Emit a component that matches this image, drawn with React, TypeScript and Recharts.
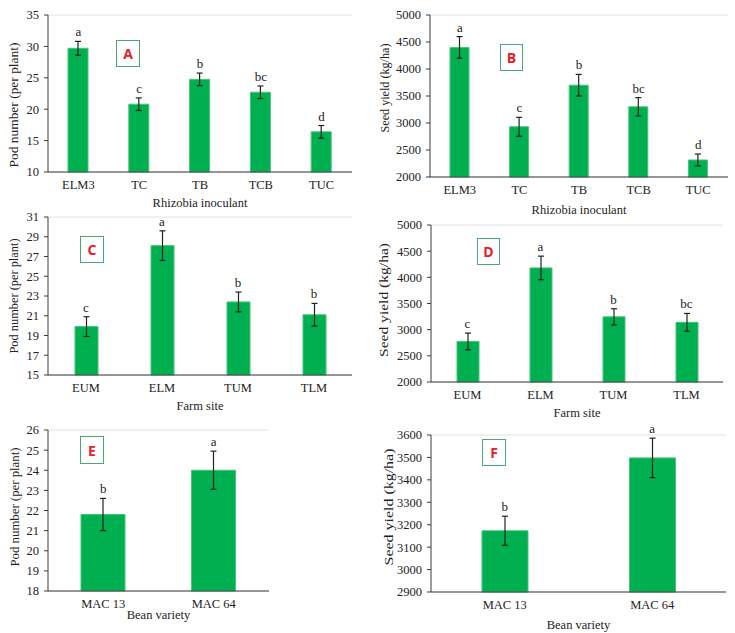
import React from 'react';
import {
  ComposedChart,
  Bar,
  Line,
  XAxis,
  YAxis,
  CartesianGrid,
  ErrorBar,
  Label,
} from 'recharts';

const SERIF = '"Liberation Serif", "Times New Roman", serif';
const GREEN = '#00b050';
const INK = '#222';
const AXIS = '#3a3a3a';

// A - pod number by rhizobia inoculant
const inoculants = ['ELM3', 'TC', 'TB', 'TCB', 'TUC'];
const podByInoculant = [29.7, 20.8, 24.75, 22.7, 16.4];
const podByInoculantErr = [1.1, 1.0, 1.0, 1.0, 1.0];
const podByInoculantLetters = ['a', 'c', 'b', 'bc', 'd'];
const podTicksA = [10, 15, 20, 25, 30, 35];

// B - seed yield by rhizobia inoculant
const yieldByInoculant = [4400, 2930, 3700, 3300, 2315];
const yieldByInoculantErr = [200, 175, 200, 170, 110];
const yieldByInoculantLetters = ['a', 'c', 'b', 'bc', 'd'];
const yieldTicksB = [2000, 2500, 3000, 3500, 4000, 4500, 5000];

// C - pod number by farm site
const farmSites = ['EUM', 'ELM', 'TUM', 'TLM'];
const podBySite = [19.9, 28.1, 22.4, 21.1];
const podBySiteErr = [1.0, 1.5, 1.0, 1.15];
const podBySiteLetters = ['c', 'a', 'b', 'b'];
const podTicksC = [15, 17, 19, 21, 23, 25, 27, 29, 31];

// D - seed yield by farm site
const yieldBySite = [2775, 4180, 3245, 3140];
const yieldBySiteErr = [160, 225, 155, 170];
const yieldBySiteLetters = ['c', 'a', 'b', 'bc'];
const yieldTicksD = [2000, 2500, 3000, 3500, 4000, 4500, 5000];

// E - pod number by bean variety
const varieties = ['MAC 13', 'MAC 64'];
const podByVariety = [21.8, 24.0];
const podByVarietyErr = [0.8, 0.95];
const podByVarietyLetters = ['b', 'a'];
const podTicksE = [18, 19, 20, 21, 22, 23, 24, 25, 26];

// F - seed yield by bean variety
const yieldByVariety = [3173, 3498];
const yieldByVarietyErr = [65, 88];
const yieldByVarietyLetters = ['b', 'a'];
const yieldTicksF = [2900, 3000, 3100, 3200, 3300, 3400, 3500, 3600];

type PanelProps = {
  tag: string;
  left: number;
  top: number;
  width: number;
  height: number;
  margin: { top: number; right: number; bottom: number; left: number };
  yWidth: number;
  xHeight: number;
  categories: string[];
  values: number[];
  errors: number[];
  letters: string[];
  ticks: number[];
  minorStep: number;
  barSize: number;
  xTitle: string;
  yTitle: string;
  yTitleX: number;
  yTitleY: number;
  yTitleLen: number;
  tagBox: { x: number; y: number; w: number; h: number };
};

// significance letter drawn just above the error bar cap
const LetterDot = (props: any) => {
  const { cx, cy, payload, index } = props;
  if (cx == null || cy == null) return <g key={`l-${index}`} />;
  return (
    <text
      key={`l-${index}`}
      x={cx}
      y={cy - 5}
      textAnchor="middle"
      fill={INK}
      stroke="none"
      style={{ fontSize: 13, fontFamily: SERIF }}
    >
      {payload.letter}
    </text>
  );
};

function Panel(p: PanelProps) {
  const data = p.categories.map((name, i) => ({
    name,
    value: p.values[i],
    err: p.errors[i],
    top: p.values[i] + p.errors[i],
    letter: p.letters[i],
  }));
  const lo = p.ticks[0];
  const hi = p.ticks[p.ticks.length - 1];
  // minor gridline positions (Excel style, 5 per major step)
  const minor: number[] = [];
  const n = Math.round((hi - lo) / p.minorStep);
  for (let i = 0; i <= n; i++) minor.push(+(lo + i * p.minorStep).toFixed(4));

  return (
    <>
      <div style={{ position: 'absolute', left: p.left, top: p.top }}>
        <ComposedChart width={p.width} height={p.height} data={data} margin={p.margin}>
          <YAxis yAxisId="grid" hide domain={[lo, hi]} ticks={minor} interval={0} />
          <CartesianGrid vertical={false} stroke="#e2e2e2" yAxisId="grid" />
          <XAxis
            dataKey="name"
            height={p.xHeight}
            tickLine={false}
            tickSize={0}
            tickMargin={8}
            axisLine={{ stroke: AXIS }}
            tick={{ fill: INK, fontSize: 12.5, fontFamily: SERIF }}
          >
            <Label
              value={p.xTitle}
              position="insideBottom"
              offset={0}
              fill={INK}
              style={{ fill: INK, fontSize: 12.5, fontFamily: SERIF }}
            />
          </XAxis>
          <YAxis
            width={p.yWidth}
            domain={[lo, hi]}
            ticks={p.ticks}
            interval={0}
            tickSize={4}
            tickMargin={5}
            tickLine={{ stroke: AXIS }}
            axisLine={{ stroke: AXIS }}
            tick={{ fill: INK, fontSize: 12.5, fontFamily: SERIF }}
          >
            <Label
              content={() => (
                <text
                  x={p.yTitleX - p.left}
                  y={p.yTitleY - p.top}
                  transform={`rotate(-90 ${p.yTitleX - p.left} ${p.yTitleY - p.top})`}
                  textAnchor="middle"
                  dominantBaseline="central"
                  textLength={p.yTitleLen}
                  lengthAdjust="spacingAndGlyphs"
                  style={{ fill: INK, fontSize: 12.5, fontFamily: SERIF }}
                >
                  {p.yTitle}
                </text>
              )}
            />
          </YAxis>
          <Bar
            dataKey="value"
            fill={GREEN}
            stroke="#45c47a"
            strokeWidth={1}
            barSize={p.barSize}
            isAnimationActive={false}
          >
            <ErrorBar dataKey="err" width={3} stroke={INK} strokeWidth={1.2} />
          </Bar>
          <Line
            dataKey="top"
            stroke="none"
            dot={LetterDot}
            activeDot={false}
            legendType="none"
            isAnimationActive={false}
          />
        </ComposedChart>
      </div>
      <div
        style={{
          position: 'absolute',
          left: p.tagBox.x,
          top: p.tagBox.y,
          width: p.tagBox.w,
          height: p.tagBox.h,
          boxSizing: 'border-box',
          border: '1.5px solid #4aa874',
          background: '#fff',
          display: 'flex',
          alignItems: 'center',
          justifyContent: 'center',
          color: '#e3212a',
          fontFamily: '"Open Sans", "Noto Sans", sans-serif',
          fontWeight: 700,
          fontSize: 14,
        }}
      >
        {p.tag}
      </div>
    </>
  );
}

export default function App() {
  return (
    <div
      style={{
        position: 'absolute',
        left: 0,
        top: 0,
        width: 735,
        height: 633,
        background: '#fff',
        overflow: 'hidden',
      }}
    >
      <Panel
        tag="A"
        left={0}
        top={0}
        width={362}
        height={212}
        margin={{ top: 15, right: 10, bottom: 5, left: 0 }}
        yWidth={48}
        xHeight={35}
        categories={inoculants}
        values={podByInoculant}
        errors={podByInoculantErr}
        letters={podByInoculantLetters}
        ticks={podTicksA}
        minorStep={1}
        barSize={20}
        xTitle="Rhizobia inoculant"
        yTitle="Pod number (per plant)"
        yTitleX={14}
        yTitleY={105}
        yTitleLen={125}
        tagBox={{ x: 116, y: 40, w: 24, h: 27 }}
      />
      <Panel
        tag="B"
        left={370}
        top={0}
        width={365}
        height={216}
        margin={{ top: 15, right: 7, bottom: 2, left: 0 }}
        yWidth={60}
        xHeight={37}
        categories={inoculants}
        values={yieldByInoculant}
        errors={yieldByInoculantErr}
        letters={yieldByInoculantLetters}
        ticks={yieldTicksB}
        minorStep={100}
        barSize={19}
        xTitle="Rhizobia inoculant"
        yTitle="Seed yield (kg/ha)"
        yTitleX={385}
        yTitleY={88}
        yTitleLen={89}
        tagBox={{ x: 500, y: 44, w: 23, h: 27 }}
      />
      <Panel
        tag="C"
        left={0}
        top={210}
        width={362}
        height={212}
        margin={{ top: 7, right: 10, bottom: 12, left: 0 }}
        yWidth={48}
        xHeight={35}
        categories={farmSites}
        values={podBySite}
        errors={podBySiteErr}
        letters={podBySiteLetters}
        ticks={podTicksC}
        minorStep={0.4}
        barSize={23}
        xTitle="Farm site"
        yTitle="Pod number (per plant)"
        yTitleX={14}
        yTitleY={296}
        yTitleLen={115}
        tagBox={{ x: 80, y: 236, w: 24, h: 27 }}
      />
      <Panel
        tag="D"
        left={370}
        top={210}
        width={365}
        height={212}
        margin={{ top: 15, right: 12, bottom: 5, left: 0 }}
        yWidth={61}
        xHeight={35}
        categories={farmSites}
        values={yieldBySite}
        errors={yieldBySiteErr}
        letters={yieldBySiteLetters}
        ticks={yieldTicksD}
        minorStep={100}
        barSize={22}
        xTitle="Farm site"
        yTitle="Seed yield (kg/ha)"
        yTitleX={384}
        yTitleY={300}
        yTitleLen={114}
        tagBox={{ x: 477, y: 238, w: 23, h: 27 }}
      />
      <Panel
        tag="E"
        left={0}
        top={420}
        width={362}
        height={213}
        margin={{ top: 10, right: 93, bottom: 14, left: 0 }}
        yWidth={48}
        xHeight={28}
        categories={varieties}
        values={podByVariety}
        errors={podByVarietyErr}
        letters={podByVarietyLetters}
        ticks={podTicksE}
        minorStep={0.2}
        barSize={44}
        xTitle="Bean variety"
        yTitle="Pod number (per plant)"
        yTitleX={15}
        yTitleY={507}
        yTitleLen={119}
        tagBox={{ x: 80, y: 436, w: 24, h: 28 }}
      />
      <Panel
        tag="F"
        left={370}
        top={420}
        width={365}
        height={213}
        margin={{ top: 15, right: 9, bottom: 4, left: 0 }}
        yWidth={61}
        xHeight={37}
        categories={varieties}
        values={yieldByVariety}
        errors={yieldByVarietyErr}
        letters={yieldByVarietyLetters}
        ticks={yieldTicksF}
        minorStep={20}
        barSize={46}
        xTitle="Bean variety"
        yTitle="Seed yield (kg/ha)"
        yTitleX={389}
        yTitleY={507}
        yTitleLen={117}
        tagBox={{ x: 482, y: 439, w: 24, h: 27 }}
      />
    </div>
  );
}
